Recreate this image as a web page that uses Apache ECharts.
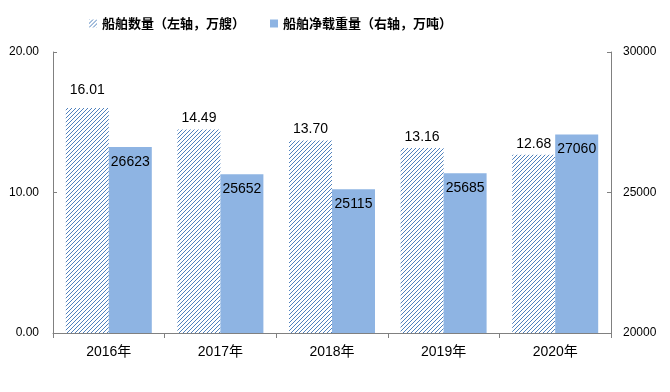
<!DOCTYPE html>
<html>
<head>
<meta charset="utf-8">
<script src="https://cdn.jsdelivr.net/npm/echarts@6/dist/echarts.min.js"></script>
<style>
html,body{margin:0;padding:0;background:#fff;}
#chart{width:670px;height:392px;}
</style>
</head>
<body>
<div id="chart"></div>
<script>
const categories = ['2016年', '2017年', '2018年', '2019年', '2020年'];
const shipCount = [16.01, 14.49, 13.70, 13.16, 12.68];
const netTonnage = [26623, 25652, 25115, 25685, 27060];
const leftTicks = [0, 10, 20];
const rightTicks = [20000, 25000, 30000];
const seriesNames = ['船舶数量（左轴，万艘）', '船舶净载重量（右轴，万吨）'];

function makeHatch() {
  const c = document.createElement('canvas');
  c.width = 4; c.height = 4;
  const ctx = c.getContext('2d');
  ctx.clearRect(0, 0, 4, 4);
  ctx.fillStyle = '#4F81BD';
  for (let i = 0; i < 4; i++) ctx.fillRect(i, 3 - i, 1, 1);
  return c;
}
const hatch = { image: makeHatch(), repeat: 'repeat' };

const numFont = 'Liberation Sans, Arial, sans-serif';
const chart = echarts.init(document.getElementById('chart'));
const axisLine = { show: true, lineStyle: { color: '#808080', width: 1 } };

chart.setOption({
  backgroundColor: '#fff',
  animation: false,
  legend: {
    left: 84, top: 12,
    itemWidth: 8, itemHeight: 8, itemGap: 25,
    icon: 'rect',
    textStyle: { fontFamily: 'Noto Sans CJK SC', fontSize: 13, fontWeight: 'bold', color: '#000' },
    data: seriesNames
  },
  grid: { left: 53, right: 59, top: 52, bottom: 59 },
  xAxis: {
    type: 'category',
    data: categories,
    axisLine: axisLine,
    axisTick: { show: true, alignWithLabel: false, length: 5, lineStyle: { color: '#808080' } },
    axisLabel: { fontFamily: 'Liberation Sans, Noto Sans CJK SC', fontSize: 14, color: '#000', margin: 12 }
  },
  yAxis: [
    {
      type: 'value', min: leftTicks[0], max: leftTicks[leftTicks.length - 1], interval: leftTicks[1] - leftTicks[0],
      axisLine: axisLine,
      axisTick: { show: true, inside: true, length: 4, lineStyle: { color: '#808080' } },
      splitLine: { show: false },
      axisLabel: { fontFamily: numFont, fontSize: 12, color: '#000', margin: 14, formatter: v => v.toFixed(2) }
    },
    {
      type: 'value', min: rightTicks[0], max: rightTicks[rightTicks.length - 1], interval: rightTicks[1] - rightTicks[0],
      axisLine: axisLine,
      axisTick: { show: true, inside: true, length: 4, lineStyle: { color: '#808080' } },
      splitLine: { show: false },
      axisLabel: { fontFamily: numFont, fontSize: 12, color: '#000', margin: 12, formatter: v => String(v) }
    }
  ],
  series: [
    {
      name: seriesNames[0], type: 'bar', yAxisIndex: 0,
      barWidth: 43, barGap: '0%',
      itemStyle: { color: hatch },
      label: { show: true, position: 'top', distance: 4, fontFamily: numFont, fontSize: 14, color: '#000', formatter: p => p.value.toFixed(2) },
      data: shipCount.map((v, i) => i === 0 ? { value: v, label: { distance: 11 } } : v)
    },
    {
      name: seriesNames[1], type: 'bar', yAxisIndex: 1,
      barWidth: 43,
      itemStyle: { color: '#8EB4E3' },
      label: { show: true, position: 'insideTop', distance: 8, fontFamily: numFont, fontSize: 14, color: '#000' },
      data: netTonnage
    }
  ]
});
</script>
</body>
</html>
